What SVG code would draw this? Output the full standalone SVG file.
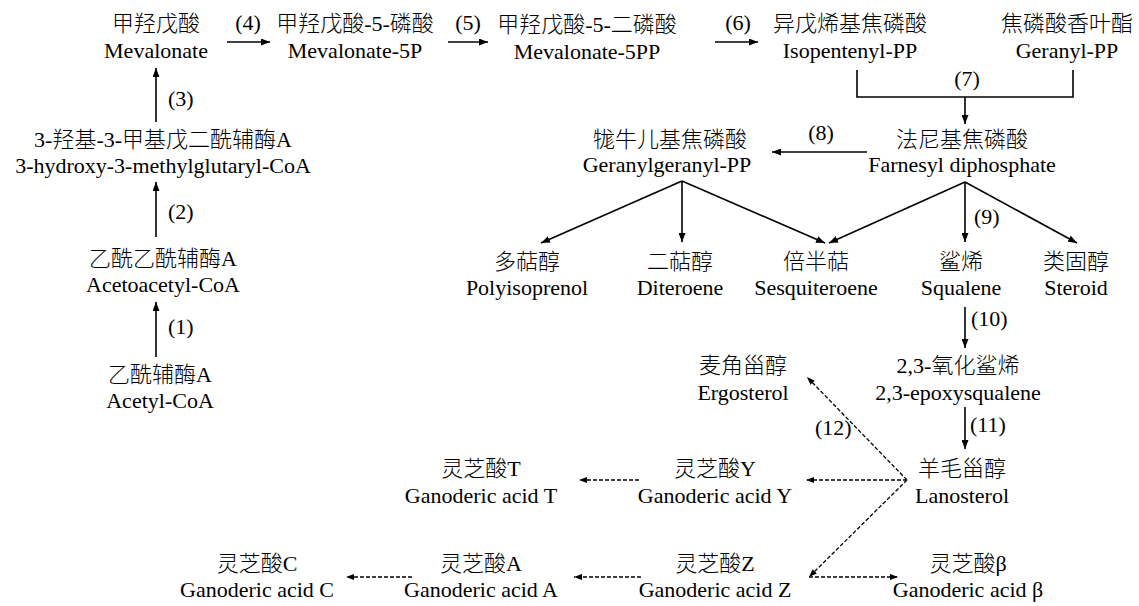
<svg xmlns="http://www.w3.org/2000/svg" width="1139" height="606" viewBox="0 0 1139 606">
<style>
text{font-family:"Liberation Serif","Noto Sans CJK SC",serif;font-size:22px;font-weight:300;fill:#000;text-anchor:middle}
text.l{text-anchor:start}
.s{fill:none;stroke:#000;stroke-width:1.6}
.a{fill:none;stroke:#000;stroke-width:1.6;marker-end:url(#ah)}
.d{fill:none;stroke:#000;stroke-width:1.3;stroke-dasharray:4,2;marker-end:url(#dh)}
</style>
<defs>
<marker id="ah" markerUnits="userSpaceOnUse" markerWidth="9" markerHeight="7" refX="9" refY="3.5" orient="auto"><path d="M0,0 L9,3.5 L0,7 z" fill="#000"/></marker>
<marker id="dh" markerUnits="userSpaceOnUse" markerWidth="8" markerHeight="6" refX="8" refY="3" orient="auto"><path d="M0,0 L8,3 L0,6 z" fill="#000"/></marker>
</defs>
<rect width="1139" height="606" fill="#fff"/>
<g id="n-mev"><text x="156" y="31">甲羟戊酸</text><text x="156" y="58">Mevalonate</text></g>
<g id="n-mev5p"><text x="355" y="31">甲羟戊酸-5-磷酸</text><text x="355" y="58">Mevalonate-5P</text></g>
<g id="n-mev5pp"><text x="587" y="32">甲羟戊酸-5-二磷酸</text><text x="587" y="59">Mevalonate-5PP</text></g>
<g id="n-ipp"><text x="850" y="31">异戊烯基焦磷酸</text><text x="850" y="58">Isopentenyl-PP</text></g>
<g id="n-gpp"><text x="1067" y="31">焦磷酸香叶酯</text><text x="1067" y="58">Geranyl-PP</text></g>
<g id="n-hmg"><text x="163" y="147">3-羟基-3-甲基戊二酰辅酶A</text><text x="163" y="173">3-hydroxy-3-methylglutaryl-CoA</text></g>
<g id="n-acac"><text x="163" y="266">乙酰乙酰辅酶A</text><text x="163" y="292">Acetoacetyl-CoA</text></g>
<g id="n-ac"><text x="160" y="382">乙酰辅酶A</text><text x="160" y="408">Acetyl-CoA</text></g>
<g id="n-ggpp"><text x="670" y="147">牻牛儿基焦磷酸</text><text x="667" y="172">Geranylgeranyl-PP</text></g>
<g id="n-fpp"><text x="962" y="147">法尼基焦磷酸</text><text x="962" y="172">Farnesyl diphosphate</text></g>
<g id="n-poly"><text x="527" y="269">多萜醇</text><text x="527" y="295">Polyisoprenol</text></g>
<g id="n-dit"><text x="680" y="269">二萜醇</text><text x="680" y="295">Diteroene</text></g>
<g id="n-ses"><text x="816" y="269">倍半萜</text><text x="816" y="295">Sesquiteroene</text></g>
<g id="n-sq"><text x="961" y="269">鲨烯</text><text x="961" y="295">Squalene</text></g>
<g id="n-ster"><text x="1076" y="269">类固醇</text><text x="1076" y="295">Steroid</text></g>
<g id="n-ergo"><text x="743" y="373">麦角甾醇</text><text x="743" y="400">Ergosterol</text></g>
<g id="n-epox"><text x="958" y="373">2,3-氧化鲨烯</text><text x="958" y="400">2,3-epoxysqualene</text></g>
<g id="n-lan"><text x="962" y="476">羊毛甾醇</text><text x="962" y="503">Lanosterol</text></g>
<g id="n-gaY"><text x="715" y="476">灵芝酸Y</text><text x="715" y="503">Ganoderic acid Y</text></g>
<g id="n-gaT"><text x="481" y="476">灵芝酸T</text><text x="481" y="503">Ganoderic acid T</text></g>
<g id="n-gaZ"><text x="715" y="571">灵芝酸Z</text><text x="715" y="597">Ganoderic acid Z</text></g>
<g id="n-gaA"><text x="481" y="571">灵芝酸A</text><text x="481" y="597">Ganoderic acid A</text></g>
<g id="n-gaC"><text x="257" y="571">灵芝酸C</text><text x="257" y="597">Ganoderic acid C</text></g>
<g id="n-gaB"><text x="968" y="571">灵芝酸β</text><text x="968" y="597">Ganoderic acid β</text></g>
<g id="connectors">
<path class="a" d="M156,357 V302"/>
<path class="a" d="M156,237 V182"/>
<path class="a" d="M156,122 V68"/>
<path class="a" d="M227,42 H270"/>
<path class="a" d="M448,42 H488"/>
<path class="a" d="M715,42 H758"/>
<path class="s" d="M857,70 V97 H1073 V70"/>
<path class="a" d="M965,97 V124"/>
<path class="a" d="M867,152 H772"/>
<path class="a" d="M682,181 L541,243"/>
<path class="a" d="M682,181 V242"/>
<path class="a" d="M682,181 L825,243"/>
<path class="a" d="M965,182 L829,243"/>
<path class="a" d="M965,182 V242"/>
<path class="a" d="M965,182 L1077,243"/>
<path class="a" d="M965,307 V348"/>
<path class="a" d="M965,407 V449"/>
<path class="d" d="M907,480 L807,377"/>
<path class="d" d="M907,480 L809,577"/>
<path class="d" d="M907,480 H806"/>
<path class="d" d="M639,480 H579"/>
<path class="d" d="M809,577 H898"/>
<path class="d" d="M641,577 H574"/>
<path class="d" d="M412,577 H346"/>
<text class="l" x="168" y="334">(1)</text>
<text class="l" x="168" y="219">(2)</text>
<text class="l" x="168" y="106">(3)</text>
<text x="248" y="30">(4)</text>
<text x="468" y="30">(5)</text>
<text x="738" y="30">(6)</text>
<text x="967" y="86">(7)</text>
<text x="821" y="140">(8)</text>
<text class="l" x="974" y="224">(9)</text>
<text class="l" x="971" y="326">(10)</text>
<text class="l" x="970" y="432">(11)</text>
<text class="l" x="815" y="435">(12)</text>
</g>
</svg>
